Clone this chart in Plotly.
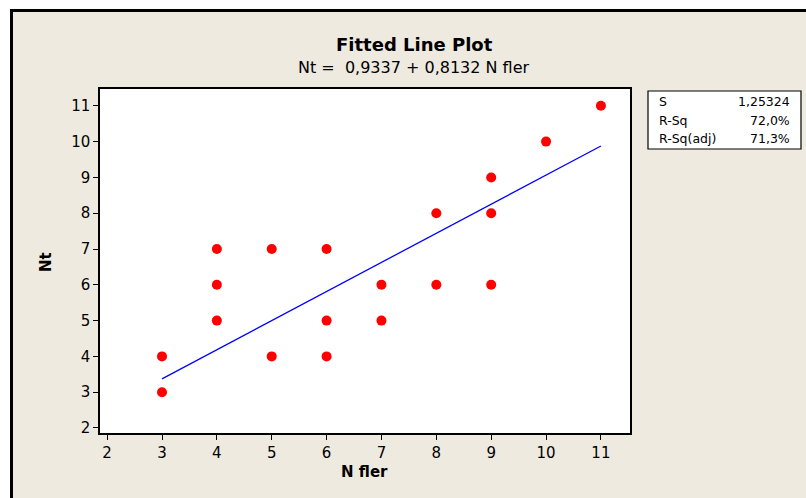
import plotly.graph_objects as go

# Data
n_fler = [3, 3, 4, 4, 4, 5, 5, 6, 6, 6, 7, 7, 8, 8, 9, 9, 9, 10, 11]
nt     = [4, 3, 7, 6, 5, 7, 4, 7, 5, 4, 6, 5, 8, 6, 9, 8, 6, 10, 11]
fit_x = [3, 11]
fit_y = [3.373, 9.879]
x_ticks = [2, 3, 4, 5, 6, 7, 8, 9, 10, 11]
y_ticks = [2, 3, 4, 5, 6, 7, 8, 9, 10, 11]
stat_names = ["S", "R-Sq", "R-Sq(adj)"]
stat_values = ["1,25324", "72,0%", "71,3%"]

W, H = 806, 498
L, R, T, B = 100, 630, 89, 433

def px(x):
    return (x - L) / (R - L)

def py(y):
    return (B - y) / (B - T)

FONT = "DejaVu Sans"

fig = go.Figure()
fig.add_trace(go.Scatter(x=fit_x, y=fit_y, mode="lines",
                         line=dict(color="#0000ff", width=1.3),
                         showlegend=False, hoverinfo="skip"))
fig.add_trace(go.Scatter(x=n_fler, y=nt, mode="markers",
                         marker=dict(color="#ff0000", size=10),
                         showlegend=False))

shapes = [
    dict(type="rect", xref="paper", yref="paper", layer="below",
         x0=px(11.5), x1=px(900), y0=py(600), y1=py(10.5),
         fillcolor="#eeeae0", line=dict(color="black", width=3)),
    dict(type="rect", xref="paper", yref="paper", layer="below",
         x0=0, x1=1, y0=0, y1=1,
         fillcolor="white", line=dict(width=0)),
    dict(type="rect", xref="paper", yref="paper",
         x0=px(648), x1=px(801), y0=py(149), y1=py(91),
         fillcolor="white", line=dict(color="black", width=1.2)),
]

ann = [
    dict(text="<b>Fitted Line Plot</b>", x=px(414), y=py(44),
         font=dict(size=18, color="black", family=FONT)),
    dict(text="Nt =\u00a0 0,9337 + 0,8132 N fler", x=px(414), y=py(67),
         font=dict(size=16, color="black", family=FONT)),
    dict(text="<b>Nt</b>", x=px(46), y=py(262), textangle=-90,
         font=dict(size=15, color="black", family=FONT)),
    dict(text="<b>N fler</b>", x=px(364), y=py(472),
         font=dict(size=15, color="black", family=FONT)),
]
rows_y = [102, 120, 138]
for name, val, yy in zip(stat_names, stat_values, rows_y):
    ann.append(dict(text=name, x=px(657), y=py(yy), xanchor="left",
                    font=dict(size=12.5, color="black", family=FONT)))
    ann.append(dict(text=val, x=px(792), y=py(yy), xanchor="right",
                    font=dict(size=12.5, color="black", family=FONT)))
for a in ann:
    a.update(xref="paper", yref="paper", showarrow=False)
    a.setdefault("xanchor", "center")
    a.setdefault("yanchor", "middle")

axis_common = dict(showgrid=False, zeroline=False, showline=True, mirror=True,
                   linecolor="black", linewidth=1.5, ticks="outside",
                   ticklen=5, tickcolor="black", tickwidth=1,
                   tickfont=dict(size=15, color="black", family=FONT))

fig.update_layout(
    width=W, height=H,
    margin=dict(l=L, r=W - R, t=T, b=H - B, pad=0),
    paper_bgcolor="white", plot_bgcolor="white",
    xaxis=dict(range=[1.87, 11.53], tickvals=x_ticks, **axis_common),
    yaxis=dict(range=[1.86, 11.47], tickvals=y_ticks, **axis_common),
    shapes=shapes, annotations=ann, showlegend=False,
)
fig.write_html("out.html", config={"displayModeBar": False},
               post_script="document.body.style.margin='0';document.body.style.overflow='hidden';")
